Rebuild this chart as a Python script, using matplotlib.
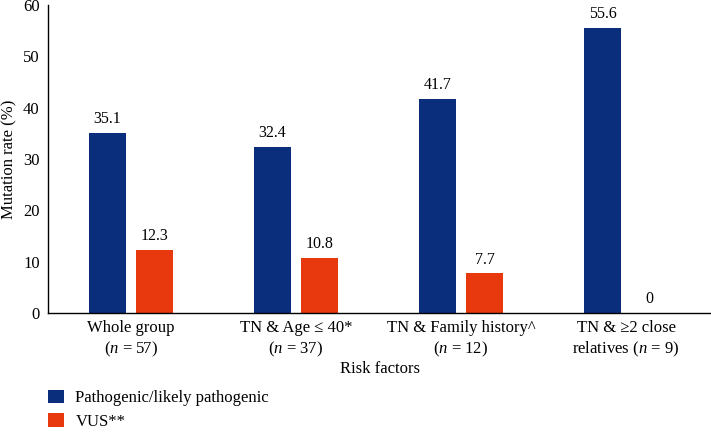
import matplotlib
matplotlib.use("Agg")
import matplotlib.pyplot as plt
import numpy as np

categories = ["Whole group\n($n$ = 57)", "TN & Age \u2264 40*\n($n$ = 37)",
              "TN & Family history^\n($n$ = 12)", "TN & \u22652 close\nrelatives ($n$ = 9)"]
pathogenic = [35.1, 32.4, 41.7, 55.6]
vus = [12.3, 10.8, 7.7, 0]
series_names = ["Pathogenic/likely pathogenic", "VUS**"]
yticks = [0, 10, 20, 30, 40, 50, 60]

plt.rcParams['font.family'] = ['Liberation Serif', 'DejaVu Serif']
plt.rcParams['mathtext.fontset'] = 'custom'
plt.rcParams['mathtext.it'] = 'Liberation Serif:italic'
plt.rcParams['mathtext.rm'] = 'Liberation Serif'

blue = "#0a2d7c"
red = "#e8380d"
fs = 12

fig = plt.figure(figsize=(7.11, 4.33), dpi=100)
ax = fig.add_axes([48/711, (433-313)/433, 1 - 48/711, (313-5)/433])

x = np.arange(len(categories))
off = 0.142
w = 0.224
b1 = ax.bar(x - off, pathogenic, w, color=blue, label=series_names[0])
b2 = ax.bar(x + off, vus, w, color=red, label=series_names[1])
ax.bar_label(b1, labels=[f"{v:g}" for v in pathogenic], padding=4, fontsize=11.5)
ax.bar_label(b2, labels=[f"{v:g}" for v in vus], padding=4, fontsize=11.5)

ax.set_xlim(-0.503, 3.515)
ax.set_ylim(0, 60)
ax.set_yticks(yticks)
ax.set_xticks(x)
ax.set_xticklabels(categories, fontsize=fs, linespacing=1.25)
ax.tick_params(axis='both', length=0, labelsize=fs)
ax.tick_params(axis='x', pad=5)
ax.tick_params(axis='y', pad=6)
for s in ['top', 'right']:
    ax.spines[s].set_visible(False)
for s in ['left', 'bottom']:
    ax.spines[s].set_linewidth(1.0)
ax.set_ylabel("Mutation rate (%)", fontsize=fs, labelpad=4)
ax.set_xlabel("Risk factors", fontsize=fs, labelpad=2)

fig.legend(handles=[b1, b2], labels=series_names, loc='lower left',
           bbox_to_anchor=(0.058, -0.008), frameon=False, fontsize=fs,
           handlelength=0.95, handleheight=0.85, handletextpad=0.7,
           labelspacing=0.42, borderaxespad=0)

fig.savefig("out.png", dpi=100)
